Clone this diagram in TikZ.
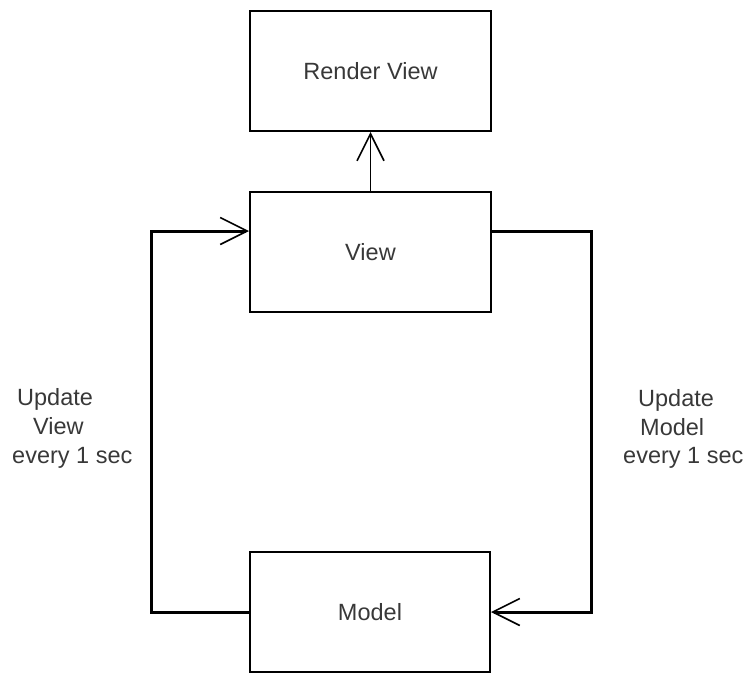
\documentclass[tikz,border=0pt]{standalone}
\usepackage{fontspec}
\setmainfont{Liberation Sans}
\usetikzlibrary{arrows.meta}
\begin{document}
\begin{tikzpicture}[x=1pt,y=-1pt,
  every node/.style={font=\fontsize{23.5}{28}\selectfont, text=black!78},
  box/.style={draw=black, line width=2pt, rectangle, minimum width=241pt, minimum height=120pt, inner sep=0pt},
  barb/.style={-{Straight Barb[length=27pt,width=27pt,line width=1.6pt]}},
  loopline/.style={draw=black, line width=3pt, line join=miter},
  lbl/.style={anchor=base west, inner sep=0pt}]
  \useasboundingbox (0,0) rectangle (748,675);

  % the three boxes
  \node[box] (render) at (370.5,71) {Render View};
  \node[box] (view) at (370.5,252) {View};
  \node[box, minimum width=240pt] (model) at (370,612) {Model};

  % view feeds the renderer
  \draw[line width=1.6pt, barb] (view.north) -- (render.south);

  % model -> view loop on the left
  \coordinate (lc) at (151,612);
  \draw[loopline, barb] (model.west) -- (lc) |- ([yshift=21pt]view.west);

  % view -> model loop on the right
  \coordinate (rc) at (591,231);
  \draw[loopline, barb] ([yshift=21pt]view.east) -- (rc) |- (model.east);

  % left label
  \node[lbl] (lu) at (17,405) {Update};
  \node[lbl] (lv) at (33,434) {View};
  \node[lbl] (le) at (12,463) {every 1 sec};

  % right label
  \node[lbl] (ru) at (638,406) {Update};
  \node[lbl] (rm) at (640,435) {Model};
  \node[lbl] (re) at (623,463) {every 1 sec};
\end{tikzpicture}
\end{document}
